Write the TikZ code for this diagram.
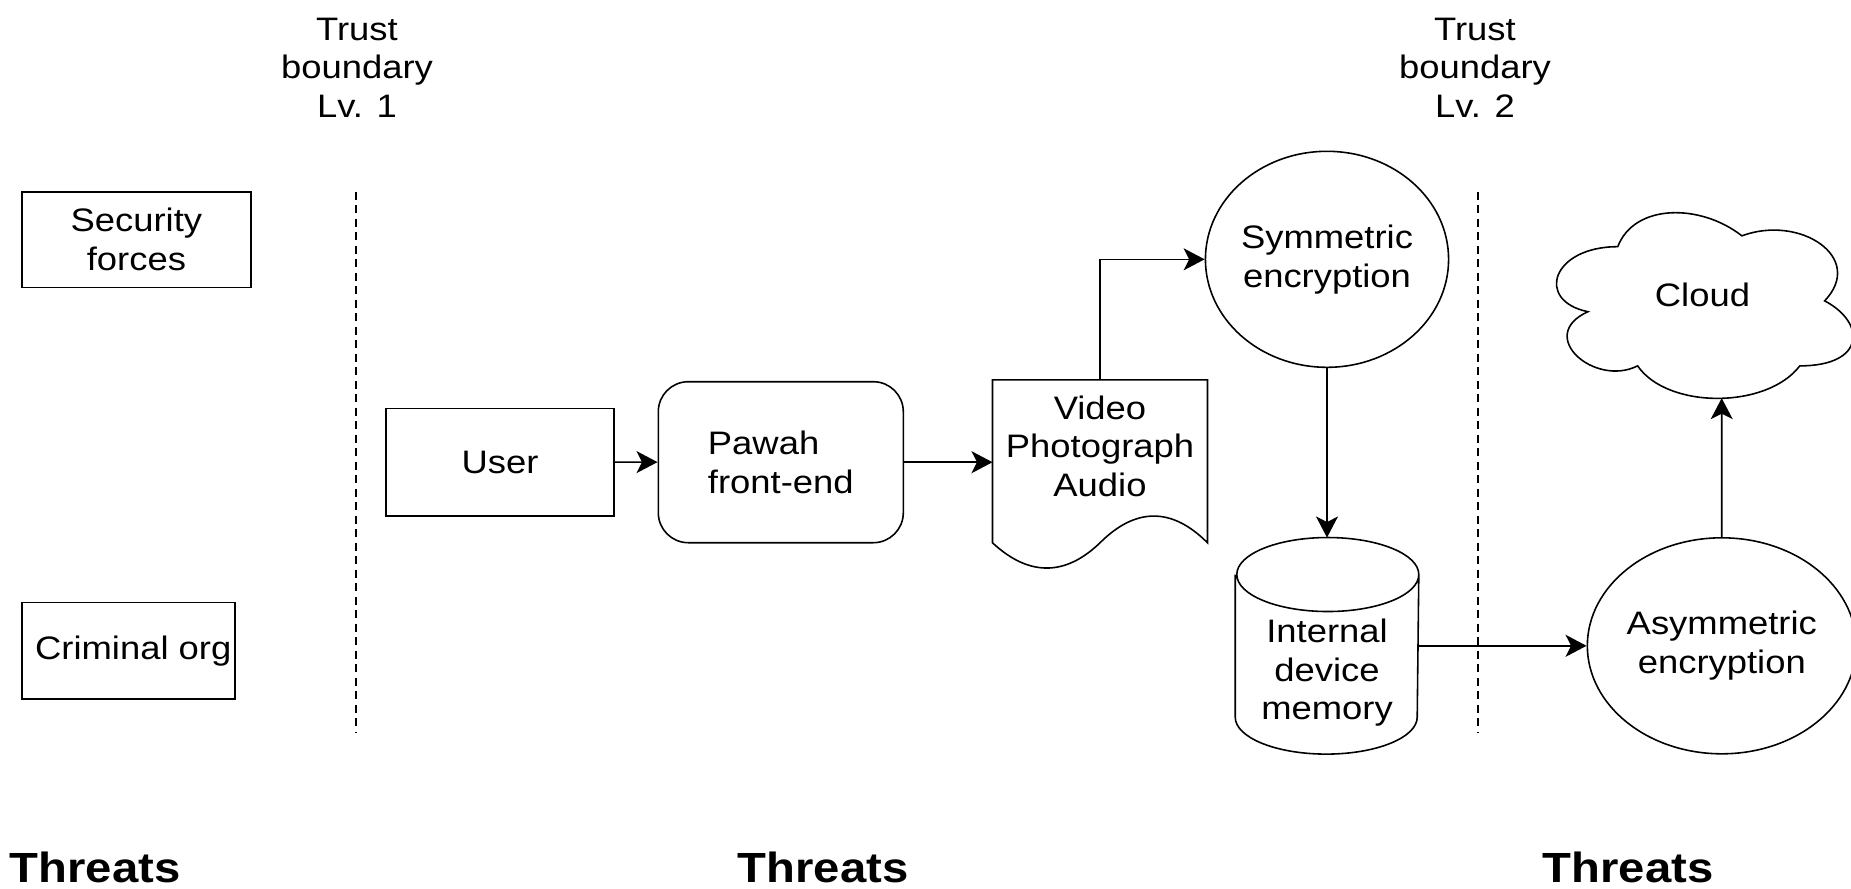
\documentclass[tikz,border=0pt]{standalone}
\usepackage{fontspec}
\setmainfont{Liberation Sans}[FakeStretch=1.12]
\usetikzlibrary{arrows.meta,shapes.geometric}

\begin{document}
\begin{tikzpicture}[x=0.2mm, y=-0.2mm, line width=0.9pt,
	font=\fontsize{18.5}{22}\selectfont,
	box/.style={draw, rectangle, inner sep=0pt},
	oval/.style={draw, ellipse, inner sep=0pt, minimum width=48.6mm, minimum height=43.2mm, align=center},
	flow/.style={-{Stealth[length=4.2mm, width=4.4mm, inset=1.1mm]}},
	boundary/.style={line width=0.75pt, dash pattern=on 1.6mm off 1.1mm},
	threat/.style={font=\fontsize{24}{28}\bfseries\selectfont, anchor=base, inner sep=0pt}]
	\useasboundingbox (0,0) rectangle (1851,888);
	\node[align=center] (tb1) at (357,67.5) {Trust\\boundary\\Lv. 1};
	\node[align=center] (tb2) at (1475,67.5) {Trust\\boundary\\Lv. 2};
	\draw[boundary] (356,191.7) -- (356,733);
	\draw[boundary] (1478,191.7) -- (1478,733);
	\node[box, minimum width=45.86mm, minimum height=19.12mm, align=center] (sec) at (136.4,239.5) {Security\\forces};
	\node[box, minimum width=42.7mm, minimum height=19.34mm] (crim) at (128.5,650.7) {\hspace*{1.9mm}Criminal org};
	\node[box, minimum width=45.7mm, minimum height=21.48mm] (user) at (500,462) {User};
	\node[box, rounded corners=6mm, minimum width=49mm, minimum height=32.2mm, align=left] (pawah) at (780.8,462.2) {Pawah\\front-end};
	\node[minimum width=42.68mm, minimum height=32.26mm, inner sep=0pt,
		label={[align=center, yshift=3mm]center:Video\\Photograph\\Audio}] (media) at (1100,461.35) {};
	\draw (media.north west) -- (media.north east) -- (media.south east)
		.. controls +(-35.8,-36) and +(35.3,-35.3) .. (media.south)
		.. controls +(-35.3,34) and +(35.8,33.3) .. (media.south west) -- cycle;
	\node[oval] (sym) at (1327,259.3) {Symmetric\\encryption};
	\node[minimum width=36.4mm, minimum height=43mm, inner sep=0pt,
		label={[align=center, yshift=-5.4mm]center:Internal\\device\\memory}] (mem) at (1327,645.8) {};
	\draw ([yshift=-7.4mm]mem.north west) -- ([yshift=7.4mm]mem.south west)
		arc[start angle=180, end angle=360, x radius=18.2mm, y radius=7.4mm]
		-- ([yshift=-7.4mm]mem.north east)
		arc[start angle=0, end angle=360, x radius=18.2mm, y radius=7.4mm];
	\node[oval] (asym) at (1721.8,645.8) {Asymmetric\\encryption};
	\begin{scope}[shift={(1535,192.5)}, x=66.2mm, y=-43.34mm]
		\draw (0.25,0.25) .. controls (0.05,0.25) and (0,0.5) .. (0.16,0.55)
			.. controls (0,0.66) and (0.18,0.9) .. (0.31,0.8)
			.. controls (0.4,1) and (0.7,1) .. (0.8,0.8)
			.. controls (1,0.8) and (1,0.6) .. (0.875,0.5)
			.. controls (1,0.3) and (0.8,0.1) .. (0.625,0.2)
			.. controls (0.5,0.05) and (0.3,0.05) .. (0.25,0.25) -- cycle;
		\coordinate (cloudbase) at (0.564,0.949);
	\end{scope}
	\node (cloud) at (1702.5,295) {Cloud};
	\draw[flow] (user) -- (pawah);
	\draw[flow] (pawah.east) -- (pawah.east -| media.west);
	\draw[flow] (media.north) |- (sym);
	\draw[flow] (sym) -- (mem);
	\draw[flow] (mem) -- (asym);
	\draw[flow] (asym) -- (cloudbase);
	\node[threat] (thr1) at (95,882) {Threats};
	\node[threat] (thr2) at (823,882) {Threats};
	\node[threat] (thr3) at (1628,882) {Threats};
\end{tikzpicture}
\end{document}
